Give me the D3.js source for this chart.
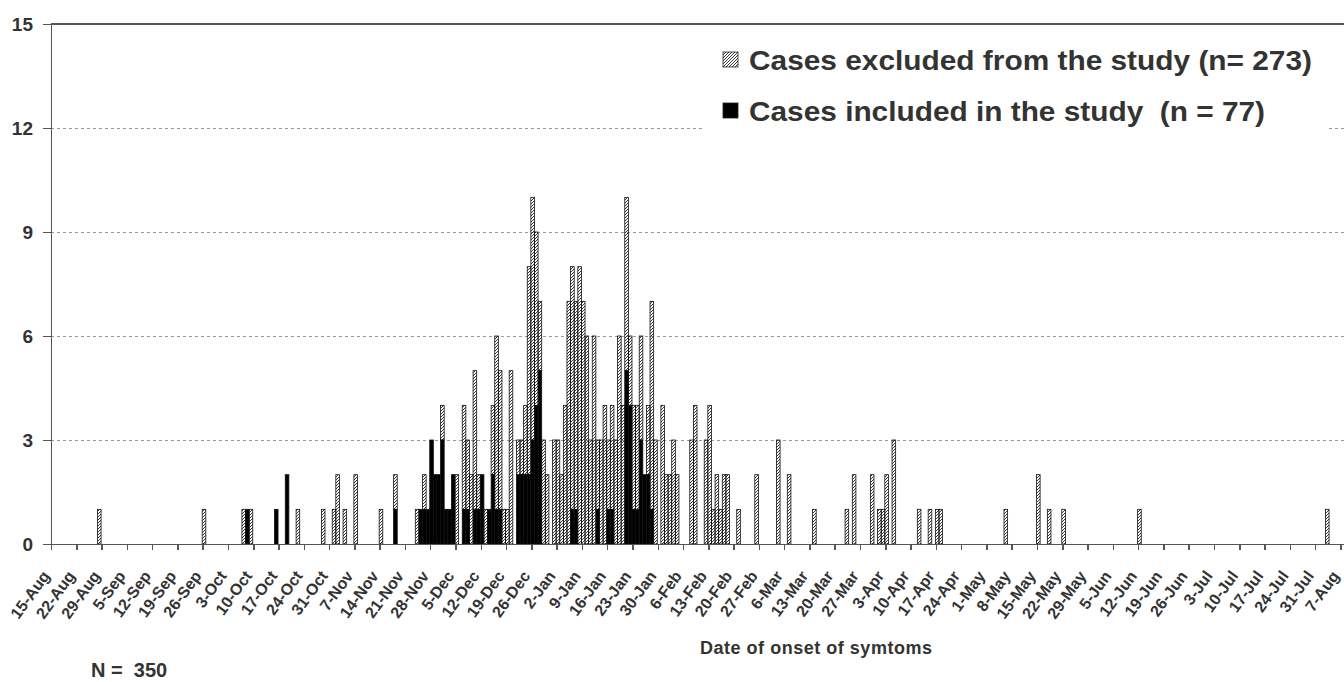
<!DOCTYPE html>
<meta charset="utf-8">
<style>
 body { margin: 0; background: #fff; }
 svg { display: block; font-family: "Liberation Sans", Arial, sans-serif; font-weight: bold; }
 .axis path, .axis line { stroke: #555; stroke-width: 1.5; shape-rendering: crispEdges; }
 .axis text { fill: #333; }
 .grid line { stroke: #999; stroke-dasharray: 3,3; shape-rendering: crispEdges; }
 .bar { stroke: #111; stroke-width: 0.8; }
</style>
<body>
<script src="https://cdn.jsdelivr.net/npm/d3@7"></script>
<script>

 // daily counts (stacked: included at the bottom)
 var onsetDates = [
     "2008-08-28", "2008-09-26", "2008-10-07", "2008-10-08", "2008-10-09", "2008-10-16", "2008-10-19",
     "2008-10-22", "2008-10-29", "2008-11-01", "2008-11-02", "2008-11-04", "2008-11-07", "2008-11-14",
     "2008-11-18", "2008-11-24", "2008-11-25", "2008-11-26", "2008-11-27", "2008-11-28", "2008-11-29",
     "2008-11-30", "2008-12-01", "2008-12-02", "2008-12-03", "2008-12-04", "2008-12-05", "2008-12-07",
     "2008-12-08", "2008-12-09", "2008-12-10", "2008-12-11", "2008-12-12", "2008-12-13", "2008-12-14",
     "2008-12-15", "2008-12-16", "2008-12-17", "2008-12-18", "2008-12-19", "2008-12-20", "2008-12-22",
     "2008-12-23", "2008-12-24", "2008-12-25", "2008-12-26", "2008-12-27", "2008-12-28", "2008-12-29",
     "2008-12-30", "2009-01-01", "2009-01-02", "2009-01-03", "2009-01-04", "2009-01-05", "2009-01-06",
     "2009-01-07", "2009-01-08", "2009-01-09", "2009-01-10", "2009-01-11", "2009-01-12", "2009-01-13",
     "2009-01-14", "2009-01-15", "2009-01-16", "2009-01-17", "2009-01-18", "2009-01-19", "2009-01-20",
     "2009-01-21", "2009-01-22", "2009-01-23", "2009-01-24", "2009-01-25", "2009-01-26", "2009-01-27",
     "2009-01-28", "2009-01-29", "2009-01-31", "2009-02-01", "2009-02-02", "2009-02-03", "2009-02-04",
     "2009-02-08", "2009-02-09", "2009-02-12", "2009-02-13", "2009-02-14", "2009-02-15", "2009-02-16",
     "2009-02-17", "2009-02-18", "2009-02-21", "2009-02-26", "2009-03-04", "2009-03-07", "2009-03-14",
     "2009-03-23", "2009-03-25", "2009-03-30", "2009-04-01", "2009-04-02", "2009-04-03", "2009-04-05",
     "2009-04-12", "2009-04-15", "2009-04-17", "2009-04-18", "2009-05-06", "2009-05-15", "2009-05-18",
     "2009-05-22", "2009-06-12", "2009-08-03"
 ];

 var excludedCases = [
     1, 1, 1, 0, 1, 0, 0,
     1, 1, 1, 2, 1, 2, 1,
     1, 1, 0, 1, 0, 0, 0,
     0, 1, 0, 0, 0, 2, 3,
     2, 2, 4, 1, 0, 1, 0,
     2, 5, 4, 1, 1, 5, 1,
     1, 2, 6, 7, 5, 2, 3,
     2, 3, 3, 2, 4, 7, 7,
     6, 8, 7, 6, 3, 6, 2,
     3, 4, 2, 3, 3, 6, 4,
     5, 2, 3, 3, 3, 0, 2,
     6, 3, 4, 2, 2, 3, 2,
     3, 4, 3, 4, 1, 2, 1,
     2, 2, 1, 2, 3, 2, 1,
     1, 2, 2, 1, 1, 2, 3,
     1, 1, 1, 1, 1, 2, 1,
     1, 1, 1
 ];

 var includedCases = [
     0, 0, 0, 1, 0, 1, 2,
     0, 0, 0, 0, 0, 0, 0,
     1, 0, 1, 1, 1, 3, 2,
     2, 3, 1, 1, 2, 0, 1,
     1, 0, 1, 1, 2, 0, 1,
     2, 1, 1, 0, 0, 0, 2,
     2, 2, 2, 3, 4, 5, 0,
     0, 0, 0, 0, 0, 0, 1,
     1, 0, 0, 0, 0, 0, 1,
     0, 0, 1, 1, 0, 0, 0,
     5, 4, 1, 1, 3, 2, 2,
     1, 0, 0, 0, 0, 0, 0,
     0, 0, 0, 0, 0, 0, 0,
     0, 0, 0, 0, 0, 0, 0,
     0, 0, 0, 0, 0, 0, 0,
     0, 0, 0, 0, 0, 0, 0,
     0, 0, 0
 ];

 var weekLabels = [
     "15-Aug", "22-Aug", "29-Aug", "5-Sep", "12-Sep", "19-Sep", "26-Sep", "3-Oct", "10-Oct", "17-Oct",
     "24-Oct", "31-Oct", "7-Nov", "14-Nov", "21-Nov", "28-Nov", "5-Dec", "12-Dec", "19-Dec", "26-Dec",
     "2-Jan", "9-Jan", "16-Jan", "23-Jan", "30-Jan", "6-Feb", "13-Feb", "20-Feb", "27-Feb", "6-Mar",
     "13-Mar", "20-Mar", "27-Mar", "3-Apr", "10-Apr", "17-Apr", "24-Apr", "1-May", "8-May", "15-May",
     "22-May", "29-May", "5-Jun", "12-Jun", "19-Jun", "26-Jun", "3-Jul", "10-Jul", "17-Jul", "24-Jul",
     "31-Jul", "7-Aug"
 ];

 var yTicks = [0, 3, 6, 9, 12, 15];

 var legendLabels = ["Cases excluded from the study (n= 273)", "Cases included in the study  (n = 77)"];

 var margin = {top: 24, right: 0, bottom: 138, left: 51},
     width = 1344 - margin.left - margin.right,
     height = 682 - margin.top - margin.bottom;

 var parseDate = d3.utcParse("%Y-%m-%d");
 var startDate = parseDate("2008-08-15");

 var data = onsetDates.map(function(d, i) {
     return {date: parseDate(d), excluded: excludedCases[i], included: includedCases[i]};
 });

 var xScale = d3.scaleUtc()
                .domain([startDate, d3.utcDay.offset(startDate, 358)])
                .range([0, width]);

 var yScale = d3.scaleLinear()
                .domain([0, 15])
                .range([height, 0]);

 var svg = d3.select("body").append("svg")
             .attr("width", 1344)
             .attr("height", 682);

 // hatch for the excluded cases
 svg.append("defs").append("pattern")
    .attr("id", "hatch")
    .attr("patternUnits", "userSpaceOnUse")
    .attr("width", 3)
    .attr("height", 3)
    .append("path")
    .attr("d", "M-1,1 l2,-2 M0,3 l3,-3 M2,4 l2,-2")
    .attr("stroke", "#222")
    .attr("stroke-width", 0.9);

 var g = svg.append("g")
            .attr("transform", "translate(" + margin.left + "," + margin.top + ")");

 // grid lines
 g.append("g")
  .attr("class", "grid")
  .selectAll("line")
  .data(yTicks.filter(function(d) { return d > 0 && d < 15; }))
  .enter().append("line")
  .attr("x1", 0)
  .attr("x2", width)
  .attr("y1", function(d) { return yScale(d); })
  .attr("y2", function(d) { return yScale(d); });

 // top border of the plot area
 g.append("line")
  .attr("x1", 0).attr("x2", width)
  .attr("y1", yScale(15)).attr("y2", yScale(15))
  .attr("stroke", "#555")
  .attr("stroke-width", 1.5)
  .style("shape-rendering", "crispEdges");

 var dayWidth = xScale(d3.utcDay.offset(startDate, 1)) - xScale(startDate);

 var bars = g.append("g");

 bars.selectAll(".inc")
     .data(data.filter(function(d) { return d.included > 0; }))
     .enter().append("rect")
     .attr("class", "bar inc")
     .attr("x", function(d) { return xScale(d.date) - 0.5; })
     .attr("width", dayWidth)
     .attr("y", function(d) { return yScale(d.included); })
     .attr("height", function(d) { return yScale(0) - yScale(d.included); })
     .attr("fill", "#000");

 bars.selectAll(".exc")
     .data(data.filter(function(d) { return d.excluded > 0; }))
     .enter().append("rect")
     .attr("class", "bar exc")
     .attr("x", function(d) { return xScale(d.date) - 0.5; })
     .attr("width", dayWidth)
     .attr("y", function(d) { return yScale(d.included + d.excluded); })
     .attr("height", function(d) { return yScale(d.included) - yScale(d.included + d.excluded); })
     .attr("fill", "url(#hatch)");

 // axes
 var weekTicks = weekLabels.map(function(d, i) { return d3.utcDay.offset(startDate, 7 * i); });

 var xAxis = d3.axisBottom(xScale)
               .tickValues(weekTicks)
               .tickSize(6)
               .tickSizeOuter(0)
               .tickFormat(function(d, i) { return weekLabels[i]; });

 var gX = g.append("g")
           .attr("class", "axis")
           .attr("transform", "translate(0," + height + ")")
           .call(xAxis);

 gX.selectAll("text")
   .style("font-size", "16px")
   .attr("text-anchor", "end")
   .attr("dy", null)
   .attr("y", null)
   .attr("transform", "translate(-1,32) rotate(-54)");

 var yAxis = d3.axisLeft(yScale)
               .tickValues(yTicks)
               .tickSize(8)
               .tickSizeOuter(0)
               .tickPadding(10);

 g.append("g")
  .attr("class", "axis")
  .call(yAxis)
  .selectAll("text")
  .style("font-size", "19px");

 // axis title and total
 svg.append("text")
    .attr("x", 816)
    .attr("y", 654)
    .attr("text-anchor", "middle")
    .attr("fill", "#333")
    .style("font-size", "18px")
    .attr("textLength", 232)
    .text("Date of onset of symtoms");

 svg.append("text")
    .attr("x", 91)
    .attr("y", 677)
    .attr("fill", "#333")
    .style("font-size", "20px")
    .style("white-space", "pre")
    .text("N =  350");

 // legend
 var legend = svg.append("g");

 legend.append("rect")
       .attr("x", 705).attr("y", 34)
       .attr("width", 623).attr("height", 96)
       .attr("fill", "#fff");

 var legendFills = ["url(#hatch)", "#000"];
 var legendWidths = [563, 516];

 var item = legend.selectAll(".item")
                  .data(legendLabels)
                  .enter().append("g")
                  .attr("transform", function(d, i) { return "translate(723," + (52 + i * 51) + ")"; });

 item.append("rect")
     .attr("width", 15)
     .attr("height", 15)
     .attr("fill", function(d, i) { return legendFills[i]; })
     .attr("stroke", "#222")
     .attr("stroke-width", 0.8);

 item.append("text")
     .attr("x", 26)
     .attr("y", 17.5)
     .attr("fill", "#333")
     .style("font-size", "28px")
     .style("white-space", "pre")
     .attr("textLength", function(d, i) { return legendWidths[i]; })
     .attr("lengthAdjust", "spacingAndGlyphs")
     .text(function(d) { return d; });

</script>
